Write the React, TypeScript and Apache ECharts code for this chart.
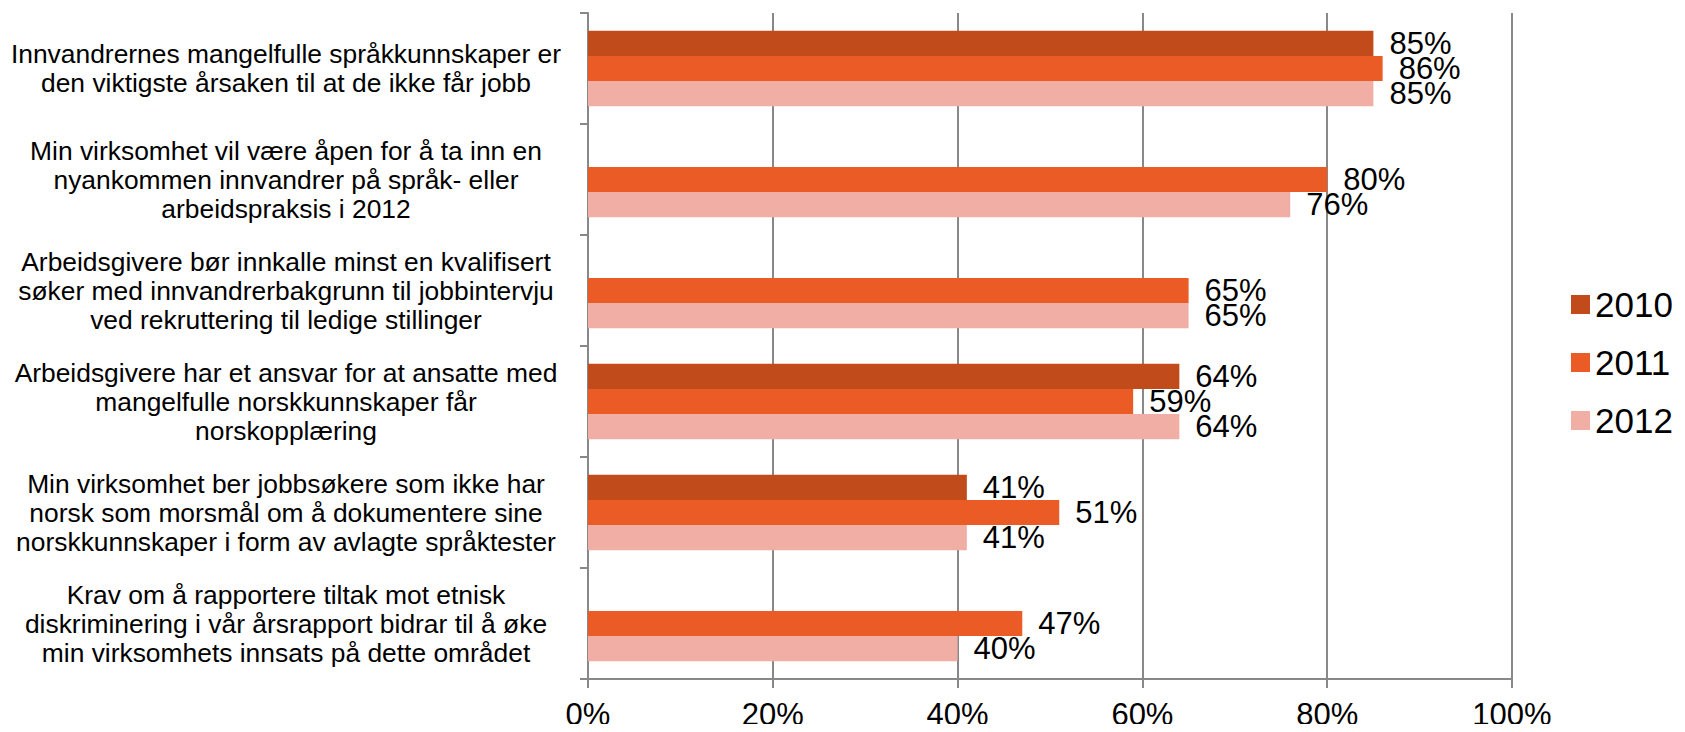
import React, { useEffect, useRef } from "react";
import * as echarts from "echarts";

const categories = [
  "Innvandrernes mangelfulle språkkunnskaper er\nden viktigste årsaken til at de ikke får jobb",
  "Min virksomhet vil være åpen for å ta inn en\nnyankommen innvandrer på språk- eller\narbeidspraksis i 2012",
  "Arbeidsgivere bør innkalle minst en kvalifisert\nsøker med innvandrerbakgrunn til jobbintervju\nved rekruttering til ledige stillinger",
  "Arbeidsgivere har et ansvar for at ansatte med\nmangelfulle norskkunnskaper får\nnorskopplæring",
  "Min virksomhet ber jobbsøkere som ikke har\nnorsk som morsmål om å dokumentere sine\nnorskkunnskaper i form av avlagte språktester",
  "Krav om å rapportere tiltak mot etnisk\ndiskriminering i vår årsrapport bidrar til å øke\nmin virksomhets innsats på dette området",
];

const seriesNames = ["2010", "2011", "2012"];
const values2010: (number | null)[] = [85, null, null, 64, 41, null];
const values2011: (number | null)[] = [86, 80, 65, 59, 51, 47];
const values2012: (number | null)[] = [85, 76, 65, 64, 41, 40];
const colors = ["#C24B1B", "#EB5B25", "#F0AEA5"];
const xTicks = [0, 20, 40, 60, 80, 100];

const FONT = "'Liberation Sans', Arial, sans-serif";

export default function App() {
  const ref = useRef<HTMLDivElement>(null);
  useEffect(() => {
    if (!ref.current) return;
    const chart = echarts.init(ref.current, undefined, { renderer: "svg" });
    const all = [values2010, values2011, values2012];
    chart.setOption({
      animation: false,
      textStyle: { fontFamily: FONT, color: "#000" },
      grid: { left: 588, right: 173, top: 13, bottom: 53, containLabel: false },
      legend: {
        orient: "vertical",
        align: "left",
        left: 1571,
        top: 287,
        padding: 0,
        itemWidth: 19,
        itemHeight: 19,
        itemGap: 23,
        icon: "rect",
        data: seriesNames,
        textStyle: {
          fontFamily: FONT,
          fontSize: 35,
          color: "#000",
        },
      },
      xAxis: {
        type: "value",
        min: xTicks[0],
        max: xTicks[xTicks.length - 1],
        interval: 20,
        axisLine: { show: true, lineStyle: { color: "#888", width: 2 } },
        axisTick: { show: true, length: 9, lineStyle: { color: "#888", width: 2 } },
        splitLine: { show: true, lineStyle: { color: "#888", width: 2 } },
        axisLabel: {
          formatter: "{value}%",
          fontFamily: FONT,
          fontSize: 31,
          color: "#000",
          margin: 20,
        },
      },
      yAxis: {
        type: "category",
        inverse: true,
        data: categories,
        axisLine: { show: true, lineStyle: { color: "#888", width: 2 } },
        axisTick: { show: true, length: 8, alignWithLabel: false, lineStyle: { color: "#888", width: 2 } },
        axisLabel: {
          fontFamily: FONT,
          fontSize: 26.4,
          lineHeight: 29,
          color: "#000",
          align: "center",
          margin: 302,
        },
      },
      series: seriesNames.map((name, i) => ({
        name,
        type: "bar",
        data: all[i],
        barGap: "0%",
        barCategoryGap: "32%",
        itemStyle: { color: colors[i] },
        label: {
          show: true,
          position: "right",
          distance: 16,
          formatter: (p: any) => (p.value == null ? "" : Math.round(p.value) + "%"),
          fontFamily: FONT,
          fontSize: 31,
          color: "#000",
        },
      })),
    });
    return () => chart.dispose();
  }, []);
  return <div ref={ref} style={{ width: 1685, height: 732, margin: -8 }} />;
}
